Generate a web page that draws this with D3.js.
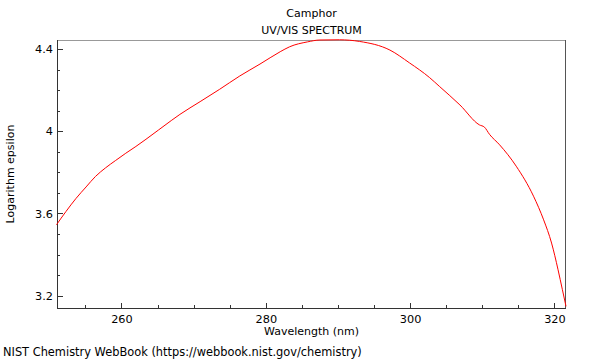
<!DOCTYPE html>
<html>
<head>
<meta charset="utf-8">
<style>
  body { margin: 0; background: #fff; }
  svg { display: block; font-family: "DejaVu Sans", sans-serif; }
  .spectrum { stroke: #ff0000; stroke-width: 1; fill: none; }
  .axis path, .axis line { stroke: #333; shape-rendering: crispEdges; }
  .axis text { font-size: 11.3px; fill: #000; font-family: "DejaVu Sans", sans-serif; }
  .lbl { font-size: 11px; fill: #000; }
</style>
</head>
<body>
<svg width="600" height="360"></svg>
<script src="https://d3js.org/d3.v7.min.js"></script>
<script>
// values
var wavelength = [251.0, 252.3, 253.7, 255.1, 256.4, 257.8, 259.2, 260.6, 262.0, 263.4, 266.9,
                  268.1, 270.9, 273.6, 276.4, 279.2, 282.0, 283.3, 285.8, 287.5, 290.2, 293.0,
                  297.2, 299.9, 302.7, 304.1, 306.9, 309.6, 310.3, 311.0, 312.4, 314.7,
                  317.1, 318.5, 319.6, 320.5, 321.1, 321.6];
var logEps = [3.545, 3.609, 3.673, 3.729, 3.780, 3.822, 3.858, 3.893, 3.926, 3.961, 4.052,
              4.082, 4.144, 4.204, 4.269, 4.327, 4.387, 4.411, 4.435, 4.444, 4.445, 4.437,
              4.395, 4.333, 4.261, 4.217, 4.128, 4.031, 4.020, 3.985, 3.934, 3.830,
              3.684, 3.569, 3.456, 3.326, 3.229, 3.148];
var xTicks = [260, 280, 300, 320];
var yTicks = [3.2, 3.6, 4, 4.4];
var titles = ["Camphor", "UV/VIS SPECTRUM"];

var data = wavelength.map(function(w, i) { return {w: w, v: logEps[i]}; });

var pL = 57, pR = 566, pT = 40, pB = 308;

var x = d3.scaleLinear().domain([251.07, 321.6]).range([pL, pR]);
var y = d3.scaleLinear().domain([3.14, 4.444]).range([pB, pT]);

var svg = d3.select("svg");

// minor ticks
svg.append("g")
    .attr("class", "axis")
    .attr("transform", "translate(0," + pB + ")")
    .call(d3.axisTop(x).tickValues(d3.range(255, 321, 5)).tickSize(3).tickFormat(""))
    .select(".domain").remove();
svg.append("g")
    .attr("class", "axis")
    .attr("transform", "translate(" + pL + ",0)")
    .call(d3.axisRight(y).tickValues(d3.range(3.2, 4.45, 0.1)).tickSize(3).tickFormat(""))
    .select(".domain").remove();

// major ticks
var xAxis = svg.append("g")
    .attr("class", "axis")
    .attr("transform", "translate(0," + pB + ")")
    .call(d3.axisTop(x).tickValues(xTicks).tickSize(5).tickSizeOuter(0));
xAxis.select(".domain").remove();
xAxis.selectAll("text").attr("y", 15).attr("dy", 0);

var yAxis = svg.append("g")
    .attr("class", "axis")
    .attr("transform", "translate(" + pL + ",0)")
    .call(d3.axisRight(y).tickValues(yTicks).tickSize(6).tickFormat(d3.format("")));
yAxis.select(".domain").remove();
yAxis.selectAll("text").attr("x", -4).attr("text-anchor", "end");

// frame
svg.append("line").attr("x1", pL).attr("x2", pR).attr("y1", pT + 0.5).attr("y2", pT + 0.5)
    .attr("stroke", "#999");
svg.append("line").attr("x1", pR - 0.5).attr("x2", pR - 0.5).attr("y1", pT).attr("y2", pB)
    .attr("stroke", "#555");
svg.append("line").attr("x1", pL + 0.5).attr("x2", pL + 0.5).attr("y1", pT).attr("y2", pB + 1)
    .attr("stroke", "#333");
svg.append("line").attr("x1", pL).attr("x2", pR).attr("y1", pB + 0.5).attr("y2", pB + 0.5)
    .attr("stroke", "#333");

svg.append("path")
    .datum(data)
    .attr("class", "spectrum")
    .attr("d", d3.line()
        .x(function(d) { return x(d.w); })
        .y(function(d) { return y(d.v); })
        .curve(d3.curveMonotoneX));

// text
var cx = (pL + pR) / 2;
svg.append("text").attr("class", "lbl").attr("x", cx).attr("y", 17)
    .attr("text-anchor", "middle").text(titles[0]);
svg.append("text").attr("class", "lbl").attr("x", cx).attr("y", 34)
    .attr("text-anchor", "middle").text(titles[1]);
svg.append("text").attr("class", "lbl").attr("x", cx).attr("y", 335)
    .attr("text-anchor", "middle").text("Wavelength (nm)");
svg.append("text").attr("class", "lbl")
    .attr("transform", "translate(14," + ((pT + pB) / 2) + ") rotate(-90)")
    .attr("text-anchor", "middle").text("Logarithm epsilon");
svg.append("text").attr("class", "lbl").style("font-size", "11.4px").attr("x", 3).attr("y", 356)
    .text("NIST Chemistry WebBook (https://webbook.nist.gov/chemistry)");
</script>
</body>
</html>
